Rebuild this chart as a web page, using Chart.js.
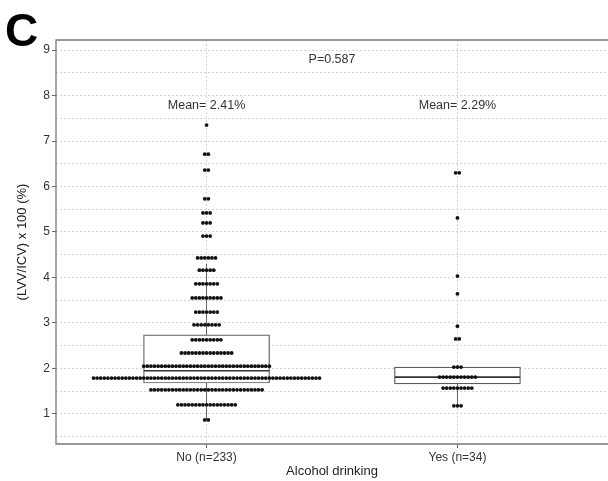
<!DOCTYPE html>
<html>
<head>
<meta charset="utf-8">
<script src="https://cdn.jsdelivr.net/npm/chart.js@4.4.0/dist/chart.umd.min.js"></script>
<style>
    html, body { margin: 0; padding: 0; background: #fff; overflow: hidden; }
</style>
</head>
<body>
<canvas id="chart" width="612" height="481"></canvas>
<script>
// categories and axis text
const categories = ["No (n=233)", "Yes (n=34)"];
const xTitle = "Alcohol drinking";
const yTitle = "(LVV/ICV) x 100 (%)";
const yGrid = [0.5, 1, 1.5, 2, 2.5, 3, 3.5, 4, 4.5, 5, 5.5, 6, 6.5, 7, 7.5, 8, 8.5, 9];

// dot rows (bin value, dots in the row)
const noBins = [0.87, 1.20, 1.53, 1.79, 2.05, 2.34, 2.63, 2.96, 3.24, 3.55, 3.86, 4.16, 4.43, 4.91, 5.20, 5.42, 5.73, 6.36, 6.71, 7.35];
const noCounts = [2, 17, 32, 64, 36, 15, 9, 8, 7, 9, 7, 5, 6, 3, 3, 3, 2, 2, 2, 1];
const yesBins = [1.18, 1.57, 1.81, 2.03, 2.65, 2.93, 3.64, 4.03, 5.31, 6.30];
const yesCounts = [3, 9, 11, 3, 2, 1, 1, 1, 1, 2];

// box stats: [whisker low, Q1, median, Q3, whisker high]
const noBox = [0.87, 1.68, 1.95, 2.74, 4.30];
const yesBox = [1.18, 1.66, 1.81, 2.03, 2.03];

const meanLabels = ["Mean= 2.41%", "Mean= 2.29%"];
const pLabel = "P=0.587";
const meanLabelY = 7.77;
const pLabelY = 8.8;

const FONT = '"Liberation Sans", Arial, sans-serif';
const dotStep = 0.0143;   // horizontal spacing of stacked dots, x units
const boxHalf = 0.25;

function dotRows(cat, bins, counts) {
    var pts = [];
    bins.forEach(function (v, i) {
        var n = counts[i];
        for (var j = 0; j < n; j++) {
            pts.push({ x: cat + (j - (n - 1) / 2) * dotStep, y: v });
        }
    });
    return pts;
}

var boxes = [noBox, yesBox];

function seg(a, b, color, width, order) {
    return {
        type: "line",
        data: [a, b],
        borderColor: color,
        borderWidth: width,
        pointRadius: 0,
        fill: false,
        order: order,
    };
}

var datasets = [
    {
        type: "scatter",
        data: dotRows(1, noBins, noCounts).concat(dotRows(2, yesBins, yesCounts)),
        pointRadius: 1.9,
        pointBackgroundColor: "#111",
        pointBorderWidth: 0,
        order: 0,
    },
    {
        type: "bar",
        data: boxes.map(function (b, i) { return { x: i + 1, y: [b[1], b[3]] }; }),
        backgroundColor: "#fff",
        borderColor: "#5c5c5c",
        borderWidth: 1.2,
        borderSkipped: false,
        barThickness: 126,
        order: 2,
    },
];

boxes.forEach(function (b, i) {
    var c = i + 1;
    datasets.push(seg({ x: c - boxHalf, y: b[2] }, { x: c + boxHalf, y: b[2] }, "#333", 1.6, 1));
    datasets.push(seg({ x: c, y: b[0] }, { x: c, y: b[1] }, "#666", 1, 3));
    if (b[4] > b[3]) datasets.push(seg({ x: c, y: b[3] }, { x: c, y: b[4] }, "#666", 1, 3));
});

var annotate = {
    id: "annotate",
    afterDraw: function (chart) {
        var ctx = chart.ctx, a = chart.chartArea, x = chart.scales.x, y = chart.scales.y;
        ctx.save();
        ctx.fillStyle = "#333";
        ctx.font = "12.5px " + FONT;
        ctx.textAlign = "center";
        ctx.textBaseline = "middle";
        meanLabels.forEach(function (t, i) {
            ctx.fillText(t, x.getPixelForValue(i + 1), y.getPixelForValue(meanLabelY));
        });
        ctx.fillText(pLabel, x.getPixelForValue(1.5), y.getPixelForValue(pLabelY));

        ctx.strokeStyle = "#777";
        ctx.lineWidth = 1.3;
        ctx.beginPath();
        ctx.moveTo(a.right + 4, a.top);
        ctx.lineTo(a.left, a.top);
        ctx.lineTo(a.left, a.bottom);
        ctx.lineTo(a.right + 4, a.bottom);
        ctx.stroke();

        ctx.fillStyle = "#000";
        ctx.font = "bold 46px " + FONT;
        ctx.textAlign = "left";
        ctx.textBaseline = "alphabetic";
        ctx.fillText("C", 5, 46);
        ctx.restore();
    },
};

new Chart(document.getElementById("chart"), {
    type: "scatter",
    data: { datasets: datasets },
    plugins: [annotate],
    options: {
        responsive: false,
        animation: false,
        devicePixelRatio: 1,
        layout: { padding: { left: 15, top: 40, right: 0, bottom: 0 } },
        plugins: { legend: { display: false }, tooltip: { enabled: false } },
        scales: {
            x: {
                type: "linear",
                min: 0.4,
                max: 2.6,
                offset: false,
                afterBuildTicks: function (s) { s.ticks = categories.map(function (_, i) { return { value: i + 1 }; }); },
                afterFit: function (s) { s.height = 37; },
                ticks: {
                    padding: 2,
                    color: "#333",
                    font: { family: FONT, size: 12 },
                    callback: function (v) { return categories[v - 1]; },
                },
                grid: { offset: false, color: "#d4d4d4", tickLength: 4, tickColor: "#666" },
                border: { display: false, dash: [2, 2] },
                title: { display: true, text: xTitle, color: "#222", font: { family: FONT, size: 13 }, padding: { top: 0, bottom: 2 } },
            },
            y: {
                min: 0.34,
                max: 9.22,
                afterBuildTicks: function (s) { s.ticks = yGrid.map(function (v) { return { value: v }; }); },
                afterFit: function (s) { s.width = 41; },
                ticks: {
                    padding: 2,
                    color: "#333",
                    font: { family: FONT, size: 12 },
                    callback: function (v) { return Number.isInteger(v) ? String(v) : ""; },
                },
                grid: {
                    color: "#d4d4d4",
                    tickLength: 4,
                    tickColor: function (c) { return Number.isInteger(c.tick.value) ? "#666" : "rgba(0,0,0,0)"; },
                },
                border: { display: false, dash: [2, 2] },
                title: { display: true, text: yTitle, color: "#222", font: { family: FONT, size: 13 }, padding: 0 },
            },
        },
    },
});
</script>
</body>
</html>
